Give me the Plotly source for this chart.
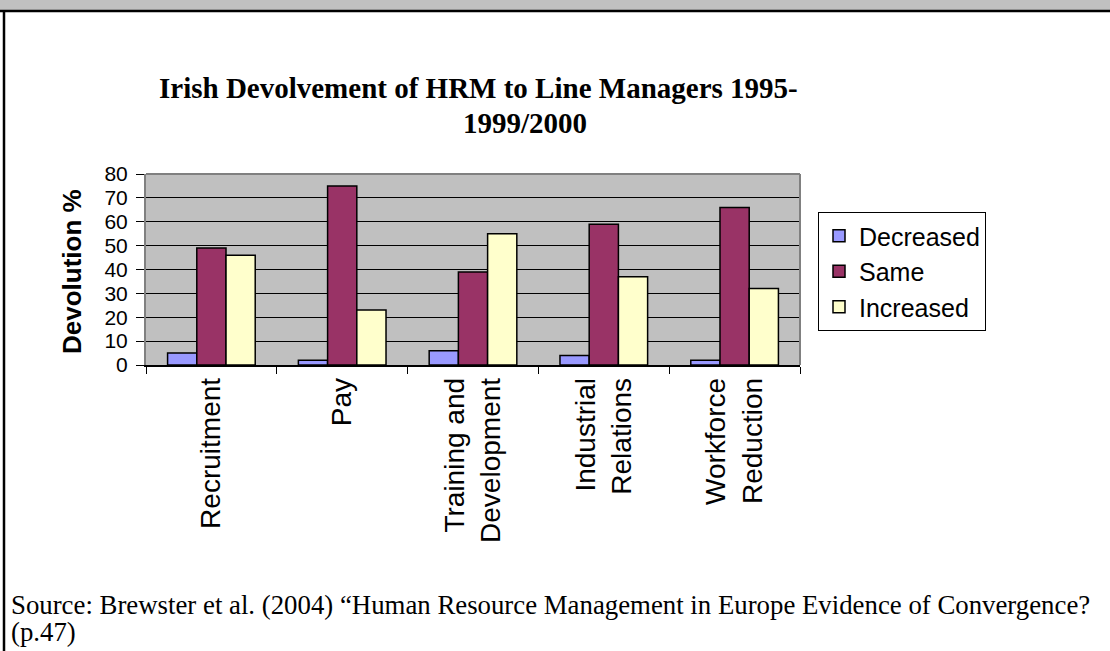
import plotly.graph_objects as go

categories = ["Recruitment", "Pay", "Training and<br>Development", "Industrial<br>Relations", "Workforce<br>Reduction"]
decreased = [5, 2, 6, 4, 2]
same = [49, 75, 39, 59, 66]
increased = [46, 23, 55, 37, 32]
series_names = ["Decreased", "Same", "Increased"]
series_colors = ["#9999FF", "#993366", "#FFFFCC"]
y_ticks = [0, 10, 20, 30, 40, 50, 60, 70, 80]

W, H = 1110, 651
L, R, T, B = 146, 800, 174, 365

def px(x):
    return (x - L) / (R - L)

def py(y):
    return (B - y) / (B - T)

SANS = "Liberation Sans, Arial, sans-serif"
SERIF = "Liberation Serif, Times New Roman, serif"

fig = go.Figure()
for name, vals, col in zip(series_names, [decreased, same, increased], series_colors):
    fig.add_trace(go.Bar(
        x=categories, y=vals, name=name,
        marker=dict(color=col, line=dict(color="black", width=1.5)),
    ))

fig.update_layout(
    width=W, height=H,
    margin=dict(l=L, r=W - R, t=T, b=H - B, pad=0),
    paper_bgcolor="white",
    plot_bgcolor="#C0C0C0",
    barmode="group",
    bargap=0.33,
    bargroupgap=0,
    showlegend=True,
    legend=dict(
        x=px(818), y=py(212), xanchor="left", yanchor="top",
        bgcolor="white", bordercolor="black", borderwidth=1,
        font=dict(family=SANS, size=25, color="black"),
        itemwidth=30,
    ),
    font=dict(family=SANS, color="black"),
)

fig.update_yaxes(
    range=[0, 80], tickvals=y_ticks, ticktext=[str(v) for v in y_ticks],
    showgrid=True, gridcolor="black", gridwidth=1,
    zeroline=False,
    showline=True, linecolor="#808080", linewidth=2,
    ticks="outside", ticklen=8, tickcolor="black", tickwidth=1,
    ticklabelstandoff=4,
    tickfont=dict(family=SANS, size=21, color="black"),
)
fig.update_xaxes(
    showgrid=False, zeroline=False,
    showline=True, linecolor="black", linewidth=1.5,
    ticks="outside", ticklen=7, tickcolor="black", tickwidth=1,
    tickson="boundaries",
    tickangle=-90,
    tickfont=dict(family=SANS, size=28, color="black"),
)

shapes = [
    # plot border (top/right)
    dict(type="line", xref="paper", yref="paper", x0=0, x1=1, y0=1, y1=1,
         line=dict(color="#808080", width=2)),
    dict(type="line", xref="paper", yref="paper", x0=1, x1=1, y0=0, y1=1,
         line=dict(color="#808080", width=2)),
    # top gray band
    dict(type="rect", xref="paper", yref="paper", x0=px(0), x1=px(W), y0=py(0), y1=py(10),
         fillcolor="#C0C0C0", line=dict(width=0), layer="below"),
    dict(type="line", xref="paper", yref="paper", x0=px(0), x1=px(W), y0=py(11), y1=py(11),
         line=dict(color="black", width=2.5)),
    # left frame line
    dict(type="line", xref="paper", yref="paper", x0=px(4), x1=px(4), y0=py(11), y1=py(H),
         line=dict(color="black", width=2.5)),
]
fig.update_layout(shapes=shapes)

annotations = [
    dict(text="<b>Irish Devolvement of HRM to Line Managers 1995-</b>", x=px(478), y=py(88),
         xref="paper", yref="paper", xanchor="center", yanchor="middle", showarrow=False,
         font=dict(family=SERIF, size=29, color="black")),
    dict(text="<b>1999/2000</b>", x=px(525), y=py(123),
         xref="paper", yref="paper", xanchor="center", yanchor="middle", showarrow=False,
         font=dict(family=SERIF, size=29, color="black")),
    dict(text="<b>Devolution %</b>", x=px(72), y=py(272), textangle=-90,
         xref="paper", yref="paper", xanchor="center", yanchor="middle", showarrow=False,
         font=dict(family=SANS, size=26, color="black")),
    dict(text="Source: Brewster et al. (2004) \u201cHuman Resource Management in Europe Evidence of Convergence?",
         x=px(9), y=py(605), xref="paper", yref="paper", xanchor="left", yanchor="middle",
         showarrow=False, font=dict(family=SERIF, size=26.8, color="black")),
    dict(text="(p.47)",
         x=px(9), y=py(632), xref="paper", yref="paper", xanchor="left", yanchor="middle",
         showarrow=False, font=dict(family=SERIF, size=26.8, color="black")),
]
fig.update_layout(annotations=annotations)

fig.write_html(
    "out.html",
    config={"displayModeBar": False},
    post_script="document.body.style.margin='0';document.body.style.overflow='hidden';",
)
